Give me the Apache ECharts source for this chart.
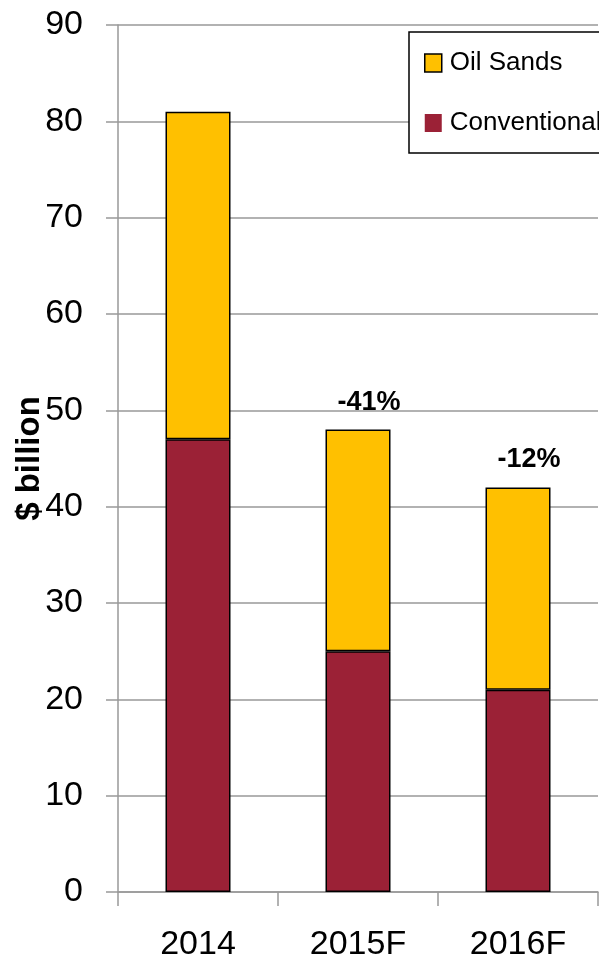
<!DOCTYPE html>
<html>
<head>
<meta charset="utf-8">
<script src="https://cdn.jsdelivr.net/npm/echarts@6/dist/echarts.min.js"></script>
<style>
html,body{margin:0;padding:0;background:#fff;}
#c{width:599px;height:967px;}
</style>
</head>
<body>
<div id="c"></div>
<script>
var categories = ['2014', '2015F', '2016F'];
var conventional = [47, 25, 21];
var oilSands = [34, 23, 21];
var changeLabels = ['', '-41%', '-12%'];
var yTicks = [0, 10, 20, 30, 40, 50, 60, 70, 80, 90];

var FONT = "'Liberation Sans Narrow', 'Liberation Sans', sans-serif";
var chart = echarts.init(document.getElementById('c'), null, {renderer: 'canvas'});
var option = {
  animation: false,
  backgroundColor: '#fff',
  grid: {left: 118, right: 1, top: 25, bottom: 75, containLabel: false, outerBoundsMode: 'none'},
  legend: {
    orient: 'vertical',
    left: 409, top: 32,
    padding: [18, 16, 17, 15],
    icon: 'rect',
    itemWidth: 17, itemHeight: 18, itemGap: 34,
    borderColor: '#000', borderWidth: 1.5,
    backgroundColor: '#fff',
    textStyle: {fontFamily: FONT, fontSize: 26, color: '#000', padding: [0, 0, 0, 3]},
    data: [
      {name: 'Oil Sands', itemStyle: {borderColor: '#000', borderWidth: 1.5}},
      {name: 'Conventional', itemStyle: {borderWidth: 0}}
    ]
  },
  xAxis: {
    type: 'category',
    data: categories,
    axisLine: {lineStyle: {color: '#999', width: 1.5}},
    axisTick: {show: true, length: 14, lineStyle: {color: '#999', width: 1.5}},
    axisLabel: {fontFamily: FONT, fontSize: 34, color: '#000', margin: 36}
  },
  yAxis: {
    type: 'value',
    min: yTicks[0], max: yTicks[yTicks.length - 1], interval: 10,
    name: '$ billion',
    nameLocation: 'middle',
    nameRotate: 90,
    nameGap: 72,
    nameMoveOverlap: false,
    nameTextStyle: {fontFamily: "'Liberation Sans', sans-serif", fontWeight: 'bold', fontSize: 33, color: '#000'},
    axisLine: {show: true, lineStyle: {color: '#999', width: 1.5}},
    axisTick: {show: true, length: 12, lineStyle: {color: '#999', width: 1.5}},
    axisLabel: {fontFamily: FONT, fontSize: 34, color: '#000', margin: 35},
    splitLine: {show: true, lineStyle: {color: '#999', width: 1.5}}
  },
  series: [
    {
      name: 'Conventional', type: 'bar', stack: 'total', barWidth: 65,
      data: conventional,
      itemStyle: {color: '#9B2136', borderColor: '#000', borderWidth: 1.5}
    },
    {
      name: 'Oil Sands', type: 'bar', stack: 'total', barWidth: 65,
      data: oilSands,
      itemStyle: {color: '#FFC000', borderColor: '#000', borderWidth: 1.5},
      label: {
        show: true, position: 'top', distance: 14, offset: [11, 0],
        fontFamily: FONT, fontWeight: 'bold', fontSize: 27, color: '#000',
        formatter: function (p) { return changeLabels[p.dataIndex]; }
      }
    }
  ]
};
chart.setOption(option);
</script>
</body>
</html>
